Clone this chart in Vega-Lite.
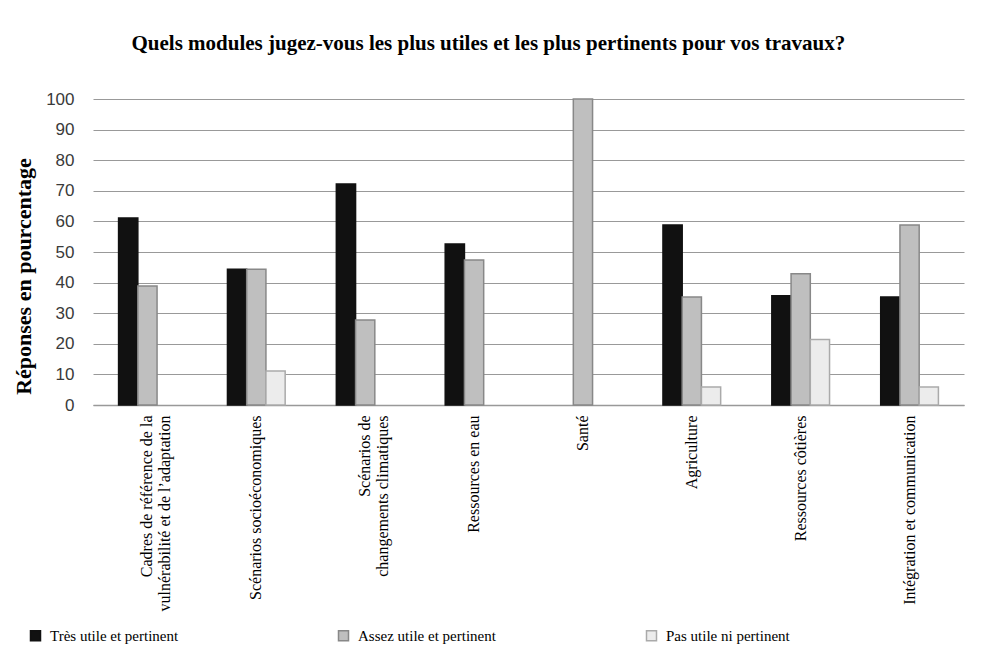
{
  "$schema": "https://vega.github.io/schema/vega-lite/v6.json",
  "width": 871,
  "height": 306,
  "padding": {"left": 12, "top": 33, "right": 18, "bottom": 10},
  "background": "white",
  "title": {
    "text": "Quels modules jugez-vous les plus utiles et les plus pertinents pour vos travaux?",
    "font": "Liberation Serif",
    "fontSize": 21,
    "fontWeight": "bold",
    "color": "black",
    "anchor": "middle",
    "frame": "bounds",
    "offset": 36
  },
  "data": {
    "values": [
      {"module": "Cadres de référence de la|vulnérabilité et de l’adaptation", "serie": "Très utile et pertinent", "value": 61.1},
      {"module": "Cadres de référence de la|vulnérabilité et de l’adaptation", "serie": "Assez utile et pertinent", "value": 38.9},
      {"module": "Scénarios socioéconomiques", "serie": "Très utile et pertinent", "value": 44.4},
      {"module": "Scénarios socioéconomiques", "serie": "Assez utile et pertinent", "value": 44.4},
      {"module": "Scénarios socioéconomiques", "serie": "Pas utile ni pertinent", "value": 11.1},
      {"module": "Scénarios de|changements climatiques", "serie": "Très utile et pertinent", "value": 72.2},
      {"module": "Scénarios de|changements climatiques", "serie": "Assez utile et pertinent", "value": 27.8},
      {"module": "Ressources en eau", "serie": "Très utile et pertinent", "value": 52.6},
      {"module": "Ressources en eau", "serie": "Assez utile et pertinent", "value": 47.4},
      {"module": "Santé", "serie": "Assez utile et pertinent", "value": 100},
      {"module": "Agriculture", "serie": "Très utile et pertinent", "value": 58.8},
      {"module": "Agriculture", "serie": "Assez utile et pertinent", "value": 35.3},
      {"module": "Agriculture", "serie": "Pas utile ni pertinent", "value": 5.9},
      {"module": "Ressources côtières", "serie": "Très utile et pertinent", "value": 35.7},
      {"module": "Ressources côtières", "serie": "Assez utile et pertinent", "value": 42.9},
      {"module": "Ressources côtières", "serie": "Pas utile ni pertinent", "value": 21.4},
      {"module": "Intégration et communication", "serie": "Très utile et pertinent", "value": 35.3},
      {"module": "Intégration et communication", "serie": "Assez utile et pertinent", "value": 58.8},
      {"module": "Intégration et communication", "serie": "Pas utile ni pertinent", "value": 5.9}
    ]
  },
  "mark": {"type": "bar", "strokeWidth": 1.5},
  "encoding": {
    "x": {
      "field": "module",
      "type": "nominal",
      "sort": null,
      "scale": {"paddingInner": 0.47, "paddingOuter": 0.235},
      "axis": {
        "title": null,
        "labelAngle": -90,
        "labelAlign": "right",
        "labelBaseline": "middle",
        "labelFont": "Liberation Serif",
        "labelFontSize": 16,
        "labelColor": "black",
        "labelPadding": 10,
        "labelLimit": 300,
        "labelExpr": "split(datum.label, '|')",
        "ticks": false,
        "domain": true,
        "domainColor": "#999999",
        "domainWidth": 1.5
      }
    },
    "xOffset": {
      "field": "serie",
      "type": "nominal",
      "scale": {"domain": ["Très utile et pertinent", "Assez utile et pertinent", "Pas utile ni pertinent"], "paddingInner": 0}
    },
    "y": {
      "field": "value",
      "type": "quantitative",
      "scale": {"domain": [0, 100], "nice": false},
      "axis": {
        "title": "Réponses en pourcentage",
        "titleFont": "Liberation Serif",
        "titleFontSize": 22,
        "titleFontWeight": "bold",
        "titleColor": "black",
        "titlePadding": 10,
        "titleY": 177,
        "values": [0, 10, 20, 30, 40, 50, 60, 70, 80, 90, 100],
        "labelFont": "Liberation Sans",
        "labelFontSize": 17,
        "labelColor": "#3a3a3a",
        "labelPadding": 19,
        "domain": false,
        "ticks": false,
        "grid": true,
        "gridColor": "#999999",
        "gridWidth": 1
      }
    },
    "fill": {
      "field": "serie",
      "type": "nominal",
      "scale": {"domain": ["Très utile et pertinent", "Assez utile et pertinent", "Pas utile ni pertinent"], "range": ["#111111", "#bfbfbf", "#ececec"]},
      "legend": {
        "title": null,
        "orient": "none",
        "legendX": -65,
        "legendY": 529,
        "direction": "horizontal",
        "symbolType": "square",
        "symbolSize": 100,
        "labelOffset": 7,
        "labelFont": "Liberation Serif",
        "labelFontSize": 15,
        "labelColor": "black",
        "columnPadding": 147,
        "gridAlign": "all"
      }
    },
    "stroke": {
      "field": "serie",
      "type": "nominal",
      "scale": {"domain": ["Très utile et pertinent", "Assez utile et pertinent", "Pas utile ni pertinent"], "range": ["#111111", "#888888", "#aaaaaa"]},
      "legend": {
        "title": null,
        "orient": "none",
        "legendX": -65,
        "legendY": 529,
        "direction": "horizontal",
        "symbolType": "square",
        "symbolSize": 100,
        "labelOffset": 7,
        "labelFont": "Liberation Serif",
        "labelFontSize": 15,
        "labelColor": "black",
        "columnPadding": 147,
        "gridAlign": "all"
      }
    }
  },
  "config": {
    "view": {"stroke": null}
  }
}
